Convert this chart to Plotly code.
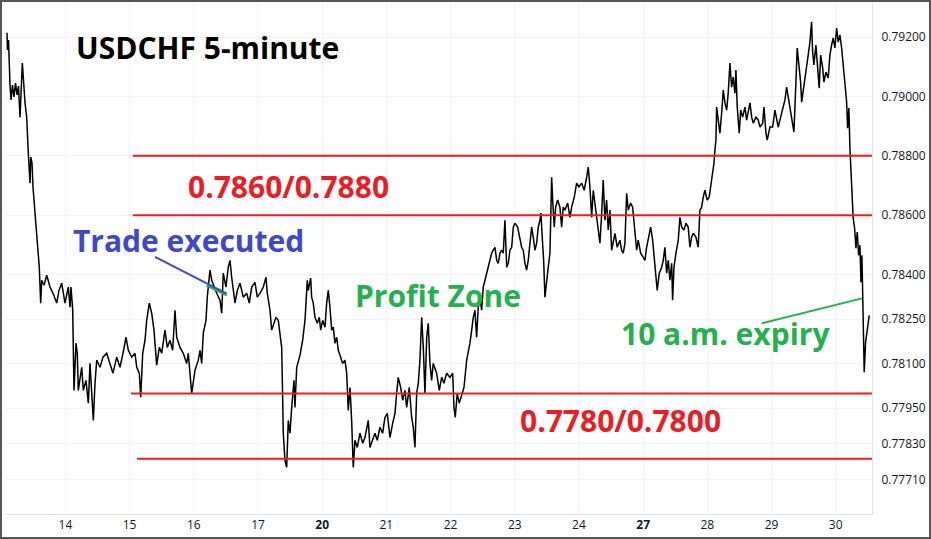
import plotly.graph_objects as go

# ---- data (trading-day index: 0 = the 14th; price in CHF per USD) ----
day_labels = ["14", "15", "16", "17", "<b>20</b>", "21", "22", "23", "24", "<b>27</b>", "28", "29", "30"]
day_ticks = list(range(len(day_labels)))

price_ticks = [0.7771, 0.7783, 0.7795, 0.7810, 0.7825, 0.7840, 0.7860, 0.7880, 0.7900, 0.7920]

t_days = [
    -0.910, -0.902, -0.886, -0.878, -0.863, -0.847, -0.824, -0.801, -0.777, -0.754,
    -0.731, -0.707, -0.671, -0.629, -0.603, -0.578, -0.551, -0.540, -0.520, -0.505,
    -0.474, -0.447, -0.431, -0.407, -0.385, -0.369, -0.333, -0.291, -0.240, -0.193,
    -0.136, -0.100, -0.058, -0.006, 0.045, 0.072, 0.087, 0.114, 0.123, 0.134,
    0.165, 0.185, 0.201, 0.254, 0.279, 0.321, 0.357, 0.383, 0.410, 0.435,
    0.461, 0.488, 0.539, 0.586, 0.643, 0.695, 0.741, 0.799, 0.850, 0.897,
    0.944, 0.980, 1.033, 1.084, 1.111, 1.151, 1.173, 1.204, 1.240, 1.266,
    1.307, 1.344, 1.380, 1.422, 1.463, 1.500, 1.551, 1.587, 1.629, 1.671,
    1.707, 1.734, 1.785, 1.836, 1.889, 1.914, 1.952, 1.967, 2.019, 2.070,
    2.097, 2.123, 2.148, 2.190, 2.210, 2.252, 2.279, 2.315, 2.357, 2.408,
    2.435, 2.459, 2.501, 2.537, 2.564, 2.590, 2.642, 2.678, 2.720, 2.771,
    2.824, 2.864, 2.902, 2.953, 2.989, 3.031, 3.083, 3.125, 3.145, 3.187,
    3.213, 3.249, 3.280, 3.316, 3.343, 3.369, 3.385, 3.394, 3.420, 3.447,
    3.472, 3.498, 3.525, 3.561, 3.576, 3.603, 3.654, 3.696, 3.732, 3.748,
    3.768, 3.783, 3.821, 3.836, 3.861, 3.888, 3.924, 3.955, 3.977, 4.008,
    4.044, 4.070, 4.095, 4.121, 4.148, 4.173, 4.199, 4.226, 4.251, 4.288,
    4.319, 4.355, 4.382, 4.406, 4.433, 4.459, 4.475, 4.484, 4.511, 4.547,
    4.589, 4.631, 4.667, 4.718, 4.744, 4.786, 4.822, 4.858, 4.900, 4.942,
    4.978, 5.014, 5.056, 5.098, 5.134, 5.160, 5.185, 5.223, 5.254, 5.290,
    5.316, 5.357, 5.394, 5.419, 5.445, 5.472, 5.497, 5.523, 5.550, 5.575,
    5.601, 5.628, 5.652, 5.679, 5.705, 5.730, 5.783, 5.824, 5.861, 5.897,
    5.939, 5.991, 6.033, 6.053, 6.073, 6.104, 6.135, 6.173, 6.209, 6.251,
    6.276, 6.302, 6.329, 6.354, 6.380, 6.406, 6.431, 6.458, 6.484, 6.509,
    6.536, 6.562, 6.587, 6.614, 6.640, 6.665, 6.692, 6.718, 6.743, 6.769,
    6.796, 6.821, 6.847, 6.874, 6.899, 6.925, 6.952, 6.977, 7.003, 7.045,
    7.081, 7.107, 7.132, 7.159, 7.185, 7.210, 7.237, 7.263, 7.288, 7.315,
    7.341, 7.366, 7.392, 7.408, 7.428, 7.450, 7.470, 7.497, 7.522, 7.548,
    7.575, 7.590, 7.615, 7.637, 7.668, 7.704, 7.730, 7.755, 7.781, 7.824,
    7.860, 7.886, 7.927, 7.964, 8.000, 8.042, 8.082, 8.120, 8.145, 8.171,
    8.198, 8.223, 8.249, 8.276, 8.301, 8.327, 8.354, 8.378, 8.405, 8.431,
    8.456, 8.483, 8.509, 8.534, 8.561, 8.596, 8.638, 8.665, 8.690, 8.716,
    8.743, 8.768, 8.805, 8.836, 8.872, 8.899, 8.923, 8.961, 9.001, 9.028,
    9.054, 9.095, 9.117, 9.148, 9.168, 9.199, 9.219, 9.251, 9.288, 9.313,
    9.339, 9.366, 9.391, 9.417, 9.444, 9.459, 9.480, 9.511, 9.547, 9.573,
    9.600, 9.635, 9.667, 9.702, 9.729, 9.755, 9.780, 9.822, 9.858, 9.884,
    9.911, 9.936, 9.962, 9.998, 10.029, 10.051, 10.082, 10.103, 10.118, 10.134,
    10.145, 10.170, 10.196, 10.223, 10.248, 10.274, 10.301, 10.325, 10.352, 10.378,
    10.403, 10.429, 10.445, 10.466, 10.497, 10.519, 10.550, 10.586, 10.612, 10.664,
    10.690, 10.715, 10.757, 10.793, 10.819, 10.862, 10.882, 10.913, 10.933, 10.975,
    11.017, 11.053, 11.079, 11.104, 11.142, 11.182, 11.209, 11.235, 11.260, 11.287,
    11.328, 11.349, 11.380, 11.400, 11.431, 11.453, 11.469, 11.493, 11.535, 11.571,
    11.598, 11.624, 11.640, 11.660, 11.691, 11.712, 11.743, 11.765, 11.796, 11.816,
    11.847, 11.883, 11.909, 11.936, 11.961, 11.987, 12.014, 12.039, 12.065, 12.092,
    12.117, 12.143, 12.170, 12.185, 12.205, 12.221, 12.237, 12.252, 12.272, 12.294,
    12.315, 12.335, 12.357, 12.377, 12.393, 12.408, 12.419, 12.428, 12.444, 12.465,
    12.490, 12.522,
]

price = [
    0.79214, 0.79156, 0.79190, 0.79112, 0.79038, 0.78988, 0.79038, 0.78998, 0.79045, 0.79005,
    0.79035, 0.78930, 0.79112, 0.78978, 0.78930, 0.78809, 0.78708, 0.78796, 0.78775, 0.78695,
    0.78607, 0.78526, 0.78472, 0.78425, 0.78304, 0.78381, 0.78364, 0.78398, 0.78358, 0.78337,
    0.78304, 0.78347, 0.78371, 0.78304, 0.78358, 0.78290, 0.78358, 0.78280, 0.78155, 0.78010,
    0.78169, 0.78135, 0.78010, 0.78088, 0.78010, 0.78044, 0.77967, 0.78101, 0.78000, 0.77909,
    0.78034, 0.78112, 0.78088, 0.78122, 0.78135, 0.78101, 0.78068, 0.78122, 0.78088, 0.78135,
    0.78189, 0.78145, 0.78122, 0.78135, 0.78088, 0.78068, 0.77987, 0.78135, 0.78179, 0.78246,
    0.78304, 0.78270, 0.78213, 0.78095, 0.78155, 0.78135, 0.78213, 0.78155, 0.78179, 0.78145,
    0.78280, 0.78189, 0.78155, 0.78135, 0.78101, 0.78135, 0.78044, 0.78000, 0.78078, 0.78112,
    0.78145, 0.78101, 0.78203, 0.78246, 0.78324, 0.78415, 0.78381, 0.78358, 0.78337, 0.78314,
    0.78270, 0.78405, 0.78358, 0.78425, 0.78448, 0.78391, 0.78304, 0.78347, 0.78371, 0.78324,
    0.78337, 0.78304, 0.78358, 0.78374, 0.78324, 0.78337, 0.78358, 0.78391, 0.78337, 0.78280,
    0.78213, 0.78236, 0.78256, 0.78246, 0.78203, 0.78155, 0.77977, 0.77866, 0.77775, 0.77751,
    0.77909, 0.77866, 0.77953, 0.78044, 0.77953, 0.78088, 0.78128, 0.78179, 0.78246, 0.78304,
    0.78381, 0.78347, 0.78388, 0.78324, 0.78304, 0.78256, 0.78236, 0.78256, 0.78213, 0.78246,
    0.78223, 0.78304, 0.78347, 0.78290, 0.78213, 0.78223, 0.78169, 0.78189, 0.78145, 0.78122,
    0.78101, 0.78112, 0.78068, 0.77943, 0.78020, 0.77909, 0.77798, 0.77751, 0.77842, 0.77818,
    0.77866, 0.77832, 0.77852, 0.77909, 0.77818, 0.77842, 0.77866, 0.77842, 0.77886, 0.77866,
    0.77919, 0.77933, 0.77852, 0.77899, 0.77933, 0.78000, 0.78054, 0.78020, 0.77977, 0.78010,
    0.77953, 0.78020, 0.77919, 0.77886, 0.77818, 0.78000, 0.78034, 0.78112, 0.78256, 0.78155,
    0.78000, 0.78189, 0.78236, 0.78101, 0.78044, 0.78101, 0.78068, 0.78010, 0.78054, 0.78034,
    0.78068, 0.78054, 0.78068, 0.77953, 0.77919, 0.78000, 0.77967, 0.77994, 0.78020, 0.78112,
    0.78135, 0.78169, 0.78213, 0.78256, 0.78280, 0.78189, 0.78290, 0.78324, 0.78280, 0.78358,
    0.78381, 0.78405, 0.78425, 0.78448, 0.78472, 0.78482, 0.78492, 0.78448, 0.78438, 0.78472,
    0.78482, 0.78472, 0.78583, 0.78425, 0.78438, 0.78482, 0.78492, 0.78560, 0.78573, 0.78560,
    0.78526, 0.78492, 0.78482, 0.78438, 0.78415, 0.78448, 0.78506, 0.78560, 0.78526, 0.78482,
    0.78506, 0.78560, 0.78583, 0.78607, 0.78526, 0.78448, 0.78324, 0.78391, 0.78425, 0.78472,
    0.78728, 0.78651, 0.78560, 0.78627, 0.78651, 0.78627, 0.78560, 0.78627, 0.78617, 0.78641,
    0.78593, 0.78627, 0.78661, 0.78708, 0.78695, 0.78708, 0.78684, 0.78728, 0.78762, 0.78695,
    0.78593, 0.78684, 0.78641, 0.78593, 0.78550, 0.78506, 0.78607, 0.78718, 0.78583, 0.78651,
    0.78550, 0.78617, 0.78482, 0.78506, 0.78539, 0.78492, 0.78516, 0.78482, 0.78472, 0.78506,
    0.78674, 0.78617, 0.78641, 0.78627, 0.78539, 0.78482, 0.78516, 0.78472, 0.78459, 0.78448,
    0.78492, 0.78539, 0.78560, 0.78516, 0.78472, 0.78405, 0.78347, 0.78405, 0.78425, 0.78448,
    0.78492, 0.78405, 0.78448, 0.78381, 0.78438, 0.78314, 0.78425, 0.78472, 0.78516, 0.78593,
    0.78560, 0.78550, 0.78573, 0.78560, 0.78492, 0.78526, 0.78539, 0.78526, 0.78492, 0.78617,
    0.78627, 0.78661, 0.78684, 0.78651, 0.78661, 0.78695, 0.78742, 0.78775, 0.78819, 0.78853,
    0.78964, 0.78920, 0.78876, 0.78944, 0.79021, 0.78978, 0.78954, 0.79011, 0.79112, 0.79031,
    0.79065, 0.79011, 0.79089, 0.78964, 0.78876, 0.78954, 0.78930, 0.78964, 0.78920, 0.78978,
    0.78930, 0.78910, 0.78930, 0.78920, 0.78897, 0.78910, 0.78964, 0.78876, 0.78853, 0.78897,
    0.78897, 0.78954, 0.78920, 0.78897, 0.78930, 0.78964, 0.78988, 0.79031, 0.78998, 0.78947,
    0.78903, 0.78880, 0.79048, 0.79163, 0.79096, 0.79048, 0.78981, 0.79015, 0.79072, 0.79139,
    0.79183, 0.79251, 0.79150, 0.79106, 0.79173, 0.79116, 0.79028, 0.79139, 0.79096, 0.79048,
    0.79082, 0.79062, 0.79139, 0.79173, 0.79197, 0.79163, 0.79230, 0.79183, 0.79207, 0.79163,
    0.79106, 0.79048, 0.78981, 0.78893, 0.78961, 0.78826, 0.78758, 0.78668, 0.78590, 0.78556,
    0.78489, 0.78543, 0.78465, 0.78499, 0.78374, 0.78465, 0.78287, 0.78152, 0.78071, 0.78172,
    0.78219, 0.78263,
]

# horizontal levels drawn on the chart: (price, start day)
levels = [0.7880, 0.7860, 0.7800, 0.7778]
level_start = [1.051, 1.051, 1.022, 1.115]

RED = "#ed1c24"
GREEN = "#22b14c"
BLUE = "#3f48cc"
X_RANGE = [-0.941, 12.565]
Y_RANGE = [0.775939, 0.793145]

fig = go.Figure()
fig.add_trace(go.Scatter(
    x=t_days, y=price, mode="lines",
    line=dict(color="#000000", width=1.5),
    hoverinfo="skip", showlegend=False,
))

for lv, x0 in zip(levels, level_start):
    fig.add_shape(type="line", xref="x", yref="y", x0=x0, x1=X_RANGE[1], y0=lv, y1=lv,
                  line=dict(color=RED, width=2))

# pointer lines
fig.add_shape(type="line", xref="x", yref="y", x0=2.201, y0=0.78364, x1=2.513, y1=0.78331,
              line=dict(color=GREEN, width=2.5))
fig.add_shape(type="line", xref="x", yref="y", x0=1.396, y0=0.78460, x1=2.513, y1=0.78336,
              line=dict(color=BLUE, width=2))
fig.add_shape(type="line", xref="x", yref="y", x0=10.850, y0=0.78236, x1=12.408, y1=0.78320,
              line=dict(color=GREEN, width=2))

# outer frame
fig.add_shape(type="rect", xref="paper", yref="paper",
              x0=-0.0046, x1=1.0669, y0=-0.047, y1=1.0039,
              line=dict(color="#555555", width=2))

font_fam = "Open Sans"
texts = [
    ("USDCHF 5-minute", 2.206, 0.79163, "#000000"),
    ("0.7860/0.7880", 3.475, 0.78698, RED),
    ("Trade executed", 1.910, 0.78516, BLUE),
    ("Profit Zone", 5.804, 0.78331, GREEN),
    ("10 a.m. expiry", 10.282, 0.78203, GREEN),
    ("0.7780/0.7800", 8.654, 0.77909, RED),
]
for txt, tx, ty, col in texts:
    fig.add_annotation(x=tx, y=ty, xref="x", yref="y", text=f"<b>{txt}</b>", showarrow=False,
                       xanchor="center", yanchor="middle",
                       font=dict(family=font_fam, size=30, color=col))

fig.update_layout(
    width=931, height=539,
    margin=dict(l=5, r=59, t=3, b=25),
    paper_bgcolor="white", plot_bgcolor="white",
    showlegend=False,
    xaxis=dict(
        range=X_RANGE, tickmode="array", tickvals=day_ticks, ticktext=day_labels,
        showgrid=True, gridcolor="#f2f3f6", gridwidth=1, zeroline=False,
        showline=True, linecolor="#e0e3eb", linewidth=1, ticks="",
        tickfont=dict(family=font_fam, size=12, color="#131722"),
    ),
    yaxis=dict(
        range=Y_RANGE, side="right", tickmode="array", tickvals=price_ticks,
        tickformat=".5f",
        showgrid=True, gridcolor="#f2f3f6", gridwidth=1, zeroline=False,
        showline=True, linecolor="#e0e3eb", linewidth=1, ticks="", ticklabelstandoff=6,
        tickfont=dict(family=font_fam, size=12, color="#131722"),
    ),
)

fig.write_html(
    "out.html",
    config={"displayModeBar": False},
    post_script="document.body.style.margin='0';document.body.style.overflow='hidden';",
)
